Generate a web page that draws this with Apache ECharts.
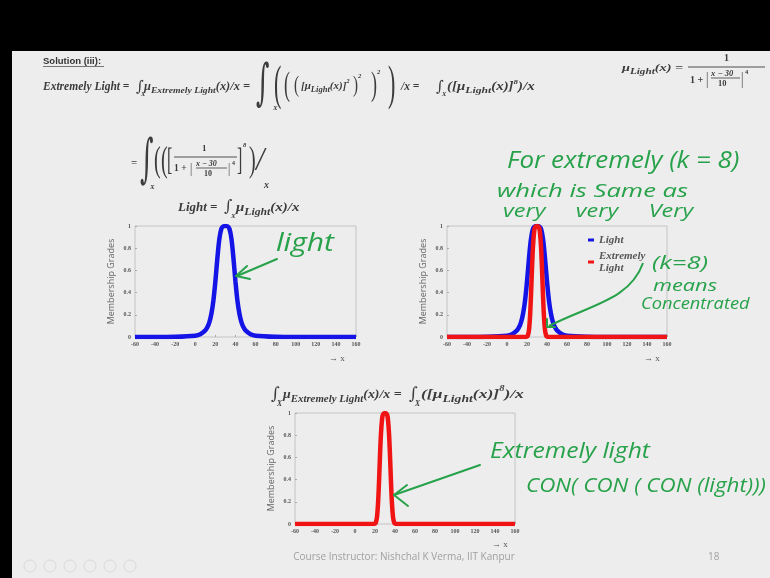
<!DOCTYPE html>
<html><head><meta charset="utf-8">
<script src="https://cdn.jsdelivr.net/npm/echarts@6/dist/echarts.min.js"></script>
<style>html,body{margin:0;padding:0;background:#000}#c{width:770px;height:578px}</style>
</head><body><div id="c"></div>
<script>
// ---- data ----
const xTicks = [-60,-40,-20,0,20,40,60,80,100,120,140,160];
const xLight = [-60,-40,-20,0,5,10,12,14,16,18,20,22,24,26,28,30,32,34,36,38,40,42,44,46,48,50,55,60,80,100,120,140,160];
const yLight = [0.000,0.000,0.002,0.012,0.025,0.059,0.087,0.132,0.207,0.325,0.500,0.709,0.885,0.975,0.998,1.000,0.998,0.975,0.885,0.709,0.500,0.325,0.207,0.132,0.087,0.059,0.025,0.012,0.002,0.000,0.000,0.000,0.000];
const xExt = [-60,0,15,18,20,21,22,23,24,25,26,27,28,30,32,33,34,35,36,37,38,39,40,42,45,60,160];
const yExt = [0,0,0,0.000,0.004,0.018,0.064,0.179,0.376,0.616,0.817,0.937,0.987,1.000,0.987,0.937,0.817,0.616,0.376,0.179,0.064,0.018,0.004,0,0,0,0];
const seriesNames = ['Light','Extremely Light'];
const yAxisName = 'Membership Grades';

const pair = (xs, ys) => xs.map((x,i)=>[x, ys[i]]);
const chart = echarts.init(document.getElementById('c'));

const MATH = '"Liberation Serif", "DejaVu Serif", serif';
const INK = '#3c3c3c';
const GREEN = '#27a24a';
const HAND = '"Open Sans", "DejaVu Sans", sans-serif';

function T(x, y, text, font, extra) {
  const el = {type:'text', x:x, y:y, z:10, style:{text:text, font:font, fill:INK, align:'left', verticalAlign:'middle', textAlign:'left', textVerticalAlign:'middle'}};
  if (extra) { if (extra.style) Object.assign(el.style, extra.style); for (const k in extra) if (k!=='style') el[k]=extra[k]; }
  return el;
}
function RT(x, y, text, size, sx) {
  return {type:'text', x:x, y:y, z:10, scaleX: sx||1, style:{text:text, fill:INK, align:'left', verticalAlign:'middle', textAlign:'left', textVerticalAlign:'middle',
    rich:{
      n:{fontFamily:MATH, fontStyle:'italic', fontWeight:'bold', fontSize:size, lineHeight:size*1.5, verticalAlign:'middle', fill:INK},
      s:{fontFamily:MATH, fontStyle:'italic', fontWeight:'bold', fontSize:size*0.78, lineHeight:size*1.5, verticalAlign:'bottom', fill:INK},
      p:{fontFamily:MATH, fontStyle:'italic', fontWeight:'bold', fontSize:size*0.6, lineHeight:size*1.5, verticalAlign:'top', fill:INK}
    }}};
}
function H(x, y, text, size, sx) {
  return {type:'text', x:x, y:y, z:10, scaleX: sx||1, style:{text:text, font:'italic ' + size + 'px ' + HAND, fill:GREEN, align:'left', verticalAlign:'middle', textAlign:'left', textVerticalAlign:'middle'}};
}
function L(points, w) {
  return {type:'polyline', z:10, shape:{points:points}, style:{stroke:GREEN, lineWidth:w||2, fill:null, lineCap:'round', lineJoin:'round'}};
}
function LINE(x1,y1,x2,y2,w,c) {
  return {type:'line', z:10, shape:{x1:x1,y1:y1,x2:x2,y2:y2}, style:{stroke:c||INK, lineWidth:w||1}};
}
const INT = (x,y,size,sy) => T(x, y, '∫', size + 'px "DejaVu Serif"', {scaleY: sy||1});
const PAR = (x,y,ch,size,sy) => T(x, y, ch, size + 'px "Liberation Serif"', {scaleY: sy||1});

const graphic = [
  {type:'rect', z:0, shape:{x:0,y:0,width:770,height:51}, style:{fill:'#000'}},
  {type:'rect', z:0, shape:{x:0,y:0,width:12,height:578}, style:{fill:'#000'}},
  // title
  T(43, 61, 'Solution (iii):', 'bold 9.5px "Liberation Sans", sans-serif', {style:{fill:'#333'}}),
  LINE(43, 66.5, 104, 66.5, 0.8, '#555'),
  // row 1
  RT(43, 87, '{n|Extremely Light =}', 11.5),
  INT(136, 87, 15), T(141, 94, 'X', 'italic bold 6.5px ' + MATH),
  RT(144, 87, '{n|μ}{s|Extremely Light}{n|(x)/x =}', 11.5, 1.08),
  INT(256, 86, 26, 1.9), T(273, 108, 'X', 'italic bold 7px ' + MATH),
  PAR(274, 86, '(', 22, 2.2), PAR(284, 86, '(', 18, 1.9), PAR(294, 86, '(', 15, 1.6),
  RT(301, 86, '{n|[μ}{s|Light}{n|(x)]}{p|2}', 11),
  PAR(353, 86, ')', 15, 1.6), T(358, 76, '2', 'italic bold 6.5px ' + MATH),
  PAR(371, 86, ')', 18, 1.9), T(377, 72, '2', 'italic bold 6.5px ' + MATH),
  PAR(388, 86, ')', 22, 2.2),
  RT(401, 87, '{n|/x =}', 11.5),
  INT(436, 87, 15), T(442, 94, 'X', 'italic bold 6.5px ' + MATH),
  RT(447, 87, '{n|([μ}{s|Light}{n|(x)]}{p|8}{n|)/x}', 11.5, 1.3),
  // right formula
  RT(622, 68, '{n|μ}{s|Light}{n|(x) =}', 11, 1.3),
  T(724, 58, '1', 'bold 10px ' + MATH),
  LINE(688, 67, 765, 67, 0.9),
  T(690, 80, '1 +', 'bold 10px ' + MATH),
  PAR(706, 80, '|', 12, 1.4),
  T(711, 74, 'x − 30', 'italic bold 8.5px ' + MATH),
  LINE(711, 78, 740, 78, 0.8),
  T(718, 84, '10', 'bold 8.5px ' + MATH),
  PAR(741, 80, '|', 12, 1.4),
  T(745, 72, '4', 'bold 6.5px ' + MATH),
  // row 2
  T(131, 163, '=', 'bold 11px ' + MATH),
  INT(140, 162, 26, 2.0), T(150, 187, 'X', 'italic bold 7px ' + MATH),
  PAR(154, 162, '(', 20, 1.8), PAR(161, 162, '(', 20, 1.8),
  PAR(167, 162, '[', 16, 2.0),
  T(202, 149, '1', 'bold 9px ' + MATH),
  LINE(174, 157, 237, 157, 0.9),
  T(174, 169, '1 +', 'bold 9.5px ' + MATH),
  PAR(190, 169, '|', 11, 1.3),
  T(196, 164, 'x − 30', 'italic bold 8px ' + MATH),
  LINE(196, 168, 227, 168, 0.8),
  T(204, 174, '10', 'bold 8px ' + MATH),
  PAR(228, 169, '|', 11, 1.3),
  T(232, 163, '4', 'bold 6px ' + MATH),
  PAR(237, 162, ']', 16, 2.0),
  T(243, 145, '8', 'italic bold 6.5px ' + MATH),
  PAR(249, 162, ')', 20, 1.8),
  T(256, 161, '/', 'italic 30px ' + MATH, {scaleY:1.1}),
  T(264, 185, 'x', 'italic bold 10px ' + MATH),
  // chart 1 title
  RT(178, 208, '{n|Light =}', 12, 1.08),
  INT(224, 207, 16), T(231, 216, 'X', 'italic bold 7px ' + MATH),
  RT(236, 208, '{n|μ}{s|Light}{n|(x)/x}', 12, 1.25),
  // bottom title
  INT(271, 395, 17), T(277, 404, 'X', 'italic bold 7.5px ' + MATH),
  RT(283, 395, '{n|μ}{s|Extremely Light}{n|(x)/x =}', 13, 1.07),
  INT(409, 395, 17), T(415, 404, 'X', 'italic bold 7.5px ' + MATH),
  RT(421, 395, '{n|([μ}{s|Light}{n|(x)]}{p|8}{n|)/x}', 13, 1.35),
  // → x labels
  T(329, 359, '→ x', '9px ' + MATH, {style:{fill:'#555'}}),
  T(644, 359, '→ x', '9px ' + MATH, {style:{fill:'#555'}}),
  T(492, 545, '→ x', '9px ' + MATH, {style:{fill:'#555'}}),
  // footer
  T(404, 557, 'Course Instructor: Nishchal K Verma, IIT Kanpur', '10px "Open Sans", sans-serif', {style:{fill:'#a0a0a0', align:'center', textAlign:'center'}}),
  T(708, 557, '18', '10px "Open Sans", sans-serif', {style:{fill:'#a0a0a0'}}),
  // handwriting
  H(507, 161, 'For extremely (k = 8)', 23, 1.13),
  H(497, 192, 'which is Same as', 18, 1.42),
  H(503, 212, 'very     very     Very', 18, 1.3),
  H(276, 244, 'light', 25, 1.2),
  L([[277,259],[237,276]]), L([[247,266],[236,276],[250,279]]),
  H(652, 264, '(k=8)', 19, 1.35),
  H(653, 286, 'means', 17, 1.28),
  H(641, 304, 'Concentrated', 16, 1.14),
  {type:'bezierCurve', z:10, shape:{x1:643,y1:263,cpx1:630,cpy1:300,cpx2:590,cpy2:305,x2:549,y2:326}, style:{stroke:GREEN, lineWidth:2, fill:null}},
  L([[547,319],[547,327],[555,327]]),
  H(490, 452, 'Extremely light', 22, 1.12),
  H(526, 486, 'CON( CON ( CON (light)))', 20, 1.12),
  L([[480,465],[394,495]]), L([[407,485],[394,495],[408,506]])
];
// faint toolbar icons bottom-left
for (let i=0;i<6;i++) graphic.push({type:'circle', z:1, shape:{cx:30+i*20, cy:566, r:6}, style:{fill:null, stroke:'#dadada', lineWidth:1}});

const grids = [
  {left:135, top:226, width:221, height:111},
  {left:447, top:226, width:220, height:111},
  {left:295, top:413, width:220, height:111}
];
const axisLabelFont = {fontSize:6, fontFamily:MATH, fontWeight:'bold', color:'#555'};
const option = {
  backgroundColor:'#ededed',
  animation:false,
  graphic: graphic,
  grid: grids.map(g => Object.assign({show:true, borderColor:'#c4c4c4', borderWidth:1, backgroundColor:'rgba(0,0,0,0)'}, g)),
  legend: {
    data: seriesNames, orient:'vertical', left:583, top:229, itemWidth:6, itemHeight:3, itemGap:4, icon:'rect',
    textStyle:{fontFamily:MATH, fontStyle:'italic', fontWeight:'bold', fontSize:11, color:'#555', lineHeight:12},
    formatter: n => n === 'Extremely Light' ? 'Extremely\nLight' : n
  },
  xAxis: [0,1,2].map(i => ({
    gridIndex:i, type:'value', min:xTicks[0], max:xTicks[xTicks.length-1], interval:20,
    axisLine:{show:false, onZero:false}, axisTick:{show:true, inside:true, length:2, lineStyle:{color:'#aaa'}},
    splitLine:{show:false}, axisLabel:Object.assign({margin:4}, axisLabelFont)
  })),
  yAxis: [0,1,2].map(i => ({
    gridIndex:i, type:'value', min:0, max:1, interval:0.2,
    name:yAxisName, nameLocation:'middle', nameGap:19, nameRotate:90,
    nameTextStyle:{fontSize:9, fontFamily:'"Open Sans", sans-serif', color:'#666'},
    axisLine:{show:false, onZero:false}, axisTick:{show:true, inside:true, length:2, lineStyle:{color:'#aaa'}},
    splitLine:{show:false}, axisLabel:Object.assign({margin:4}, axisLabelFont)
  })),
  series: [
    {name:'Light', type:'line', xAxisIndex:0, yAxisIndex:0, data:pair(xLight,yLight), smooth:0.35, showSymbol:false, color:'#1414e6', lineStyle:{width:4.5, color:'#1414e6'}},
    {name:'Light', type:'line', xAxisIndex:1, yAxisIndex:1, data:pair(xLight,yLight), smooth:0.35, showSymbol:false, color:'#1414e6', lineStyle:{width:4.5, color:'#1414e6'}},
    {name:'Extremely Light', type:'line', xAxisIndex:1, yAxisIndex:1, data:pair(xExt,yExt), smooth:0.35, showSymbol:false, color:'#f01414', lineStyle:{width:4.5, color:'#f01414'}},
    {name:'Extremely Light', type:'line', xAxisIndex:2, yAxisIndex:2, data:pair(xExt,yExt), smooth:0.35, showSymbol:false, color:'#f01414', lineStyle:{width:4.5, color:'#f01414'}}
  ]
};
chart.setOption(option);
</script></body></html>
